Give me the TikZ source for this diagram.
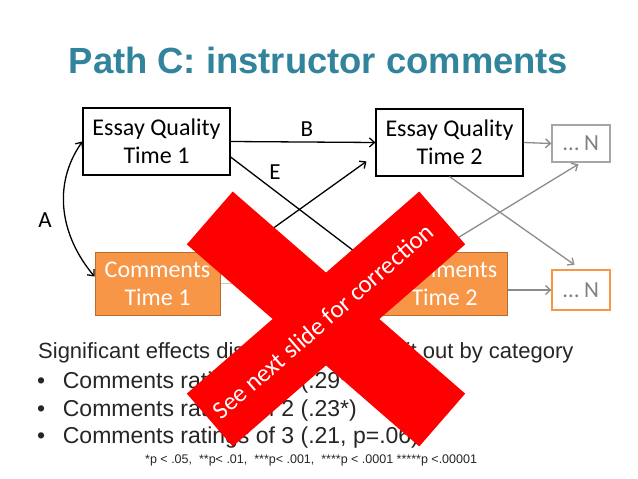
\documentclass[tikz,border=0pt]{standalone}
\usepackage{fontspec}
\setmainfont{Carlito}
\newfontfamily\arialfont{Liberation Sans}
\usetikzlibrary{arrows.meta,calc}
\definecolor{titleteal}{RGB}{49,132,155}
\definecolor{boxorange}{RGB}{247,150,70}
\definecolor{orangeedge}{RGB}{182,109,49}
\definecolor{arrowgray}{RGB}{140,140,140}
\definecolor{ngray}{RGB}{166,166,166}
\definecolor{ntext}{RGB}{128,128,128}
\definecolor{xred}{RGB}{255,0,0}
\definecolor{bodytext}{RGB}{38,38,38}
\definecolor{tanline}{RGB}{225,200,170}
\begin{document}
\begin{tikzpicture}[x=1pt,y=-1pt,
  boxtext/.style={font=\fontsize{24}{28}\selectfont, align=center, inner sep=0pt},
  eqbox/.style={boxtext, draw=black, line width=1.2pt, fill=white, minimum width=147pt, minimum height=67pt},
  cbox/.style={boxtext, draw=orangeedge, line width=1pt, fill=boxorange, text=white, minimum width=125pt, minimum height=63pt},
  nbox/.style={font=\fontsize{23}{27}\selectfont, text=ntext, minimum width=58pt, inner sep=0pt, line width=1.2pt},
  arr/.style={-{Straight Barb[length=5pt,width=9pt]}, line width=1.3pt},
  dblarr/.style={{Straight Barb[length=5pt,width=9pt]}-{Straight Barb[length=5pt,width=9pt]}, line width=1.3pt},
  garr/.style={arr, draw=arrowgray},
  lbl/.style={font=\fontsize{23}{27}\selectfont, inner sep=0pt},
  body/.style={font=\arialfont\fontsize{23}{27}\selectfont, text=bodytext, anchor=base west, inner sep=0pt},
  xband/.style={fill=xred, minimum width=308pt, minimum height=70pt, inner sep=0pt}
]
\fill[white] (0,0) rectangle (638,479);
\useasboundingbox (0,0) rectangle (638,479);

% title
\node[font=\arialfont\bfseries\fontsize{36.4}{40}\selectfont, text=titleteal, anchor=base] (title) at (318.5,73) {Path C: instructor comments};

% boxes
\node[eqbox] (eq1) at (156.5,141.5) {Essay Quality\\Time 1};
\node[eqbox] (eq2) at (449.5,142.5) {Essay Quality\\Time 2};
\node[cbox] (c1) at (157.5,283.5) {Comments\\Time 1};
\node[cbox] (c2) at (444.5,283.5) {Comments\\Time 2};
\node[nbox, draw=ngray, minimum height=37pt] (n1) at (581,143.5) {… N};
\node[nbox, draw=boxorange, minimum height=40pt] (n2) at (581,290) {… N};

% black connectors
\draw[arr] (eq1.east) -- (eq2.west);
\node[lbl] (lb) at (307,129) {B};
\draw[arr] ($(eq1.east)+(0,15.5)$) -- ($(c2.west)+(0,-11.5)$);
\node[lbl] (le) at (275,172.5) {E};
\draw[arr, shorten >=11pt] ($(c1.east)+(0,-17.5)$) -- ($(eq2.west)+(0,12.5)$);
\draw[dblarr] (eq1.west) to[out=235,in=130] ($(c1.west)+(0,-7)$);
\node[lbl] (la) at (45,220) {A};

% gray connectors
\draw[line width=1.3pt, draw=tanline] (c1.east) -- (c2.west);
\draw[garr] (eq2.east) -- (n1.west);
\draw[garr] (c2.east |- n2.west) -- (n2.west);
\draw[garr, shorten >=8pt] (eq2.south) -- (n2.north);
\draw[garr, shorten >=3pt] ($(c2.north)+(-9,0)$) -- (n1.south);

% bottom text
\node[body, font=\arialfont\fontsize{22}{26}\selectfont] (h) at (38,358) {Significant effects disappear when split out by category};
\node[body] (b1) at (37,388) {\makebox[25.7pt][l]{•}Comments ratings of 1 (.29**)};
\node[body] (b2) at (37,416) {\makebox[25.7pt][l]{•}Comments ratings of 2 (.23*)};
\node[body] (b3) at (37,443) {\makebox[25.7pt][l]{•}Comments ratings of 3 (.21, p=.06)};
\node[body, font=\arialfont\fontsize{12.5}{14}\selectfont] (fn) at (145,463) {*p < .05,~ **p< .01,~ ***p< .001,~ ****p < .0001 *****p <.00001};

% red X
\node[xband, rotate=-41] (x1) at (326,319) {};
\node[xband, rotate=41] (x2) at (326,319) {};
\node[rotate=41, text=white, font=\fontsize{25}{30}\selectfont, inner sep=0pt] (xt) at (323,321) {See next slide for correction};
\end{tikzpicture}
\end{document}
